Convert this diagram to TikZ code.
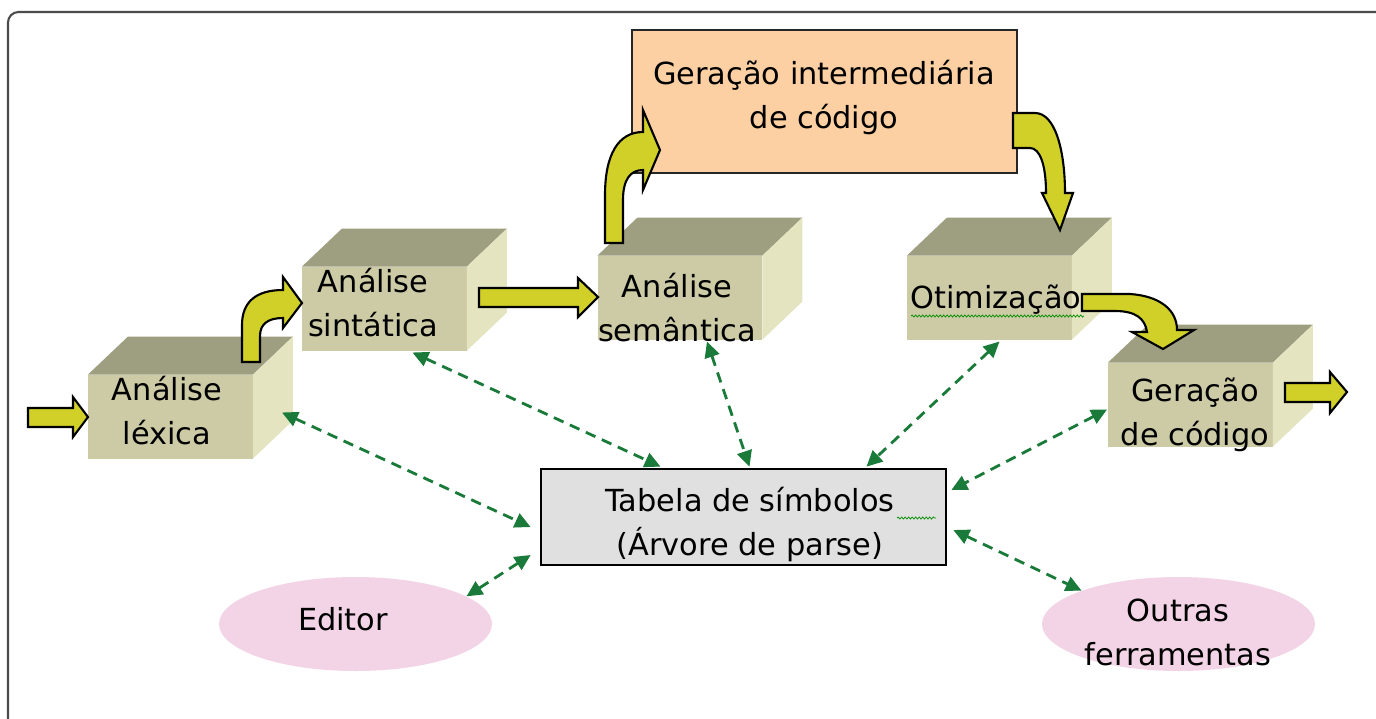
\documentclass[tikz,border=0pt]{standalone}
\usepackage{fontspec}
\setmainfont{DejaVu Sans}
\usetikzlibrary{arrows.meta,calc,shapes.geometric,decorations.pathmorphing}
\definecolor{cfront}{RGB}{204,203,166}
\definecolor{ctop}{RGB}{158,158,129}
\definecolor{cright}{RGB}{228,228,192}
\definecolor{cyel}{RGB}{208,208,40}
\definecolor{cgreen}{RGB}{26,122,58}
\definecolor{corange}{RGB}{252,208,162}
\definecolor{cgray}{RGB}{224,224,224}
\definecolor{cpink}{RGB}{242,212,230}
\newcommand\cubefaces[1]{%
  \fill[ctop] (#1.north west) -- ++(40,-38) -- ++(165,0) -- (#1.north east) -- cycle;
  \fill[cright] (#1.north east) -- ++(40,-38) -- ++(0,84) -- (#1.south east) -- cycle;}
\begin{document}
\begin{tikzpicture}[x=0.02cm,y=-0.02cm,
  font=\fontsize{17.3}{24.5}\selectfont,
  cubefront/.style={fill=cfront, draw=none, minimum width=3.3cm, minimum height=1.68cm, inner sep=0pt, outer sep=0pt},
  lbl/.style={align=center, anchor=base, inner sep=0pt},
  blockarrow/.style={fill=cyel, draw=black, line width=1.2pt, line join=miter},
  link/.style={draw=cgreen, line width=1.6pt, dash pattern=on 6pt off 4pt,
    {Triangle[length=9pt,width=8.5pt]}-{Triangle[length=9pt,width=8.5pt]}},
  squiggle/.style={draw=green!55!black, line width=0.4pt, decorate,
    decoration={snake, amplitude=0.6pt, segment length=2pt}}]
\useasboundingbox (0,0) rectangle (1376,718);
\clip (0,0) rectangle (1376,718);
\fill[white] (0,0) rectangle (1376,718);
\draw[line width=1.2pt, draw=black!70, rounded corners=6pt] (8,12) rectangle (1388,730);

% cubes
\node[cubefront] (lex) at (170.5,416.5) {};
\node[cubefront] (syn) at (384.5,308.5) {};
\node[cubefront] (sem) at (680,297.5) {};
\node[cubefront] (oti) at (989.5,297.5) {};
\node[cubefront] (gen) at (1190.5,404.5) {};
\cubefaces{lex}\cubefaces{syn}\cubefaces{sem}\cubefaces{oti}\cubefaces{gen}

% other boxes
\node[fill=corange, draw=black!85, line width=1.2pt, minimum width=7.7cm, minimum height=2.86cm, inner sep=0pt] (orng) at (824.5,101.5) {};
\node[fill=cgray, draw=black, line width=1.6pt, minimum width=8.1cm, minimum height=1.92cm, inner sep=0pt] (tab) at (743.5,517) {};
\node[ellipse, fill=cpink, draw=none, minimum width=5.46cm, minimum height=1.88cm, inner sep=0pt] (ed) at (355.5,624) {};
\node[ellipse, fill=cpink, draw=none, minimum width=5.46cm, minimum height=1.88cm, inner sep=0pt] (outr) at (1178.5,624) {};

% labels (anchor = baseline of the last line)
\node[lbl] (lexT) at (167,444) {Análise\\léxica};
\node[lbl] (synT) at (373,336) {Análise\\sintática};
\node[lbl] (semT) at (677,341) {Análise\\semântica};
\node[lbl] (otiT) at (996,308) {Otimização};
\node[lbl] (genT) at (1195,445) {Geração\\de código};
\node[lbl] (orngT) at (824,128) {Geração intermediária\\de código};
\node[lbl] (tabT) at (750,555) {Tabela de símbolos\\(Árvore de parse)};
\node[lbl] (edT) at (343,630) {Editor};
\node[lbl] (outT) at (1178,665) {Outras\\ferramentas};

\draw[squiggle] (911,316) -- (1084,316);
\draw[squiggle] (897,518) -- (936,518);

% block arrows
\filldraw[blockarrow] (28,408) -- (73,408) -- (73,397) -- (88,417) -- (73,437) -- (73,427) -- (28,427) -- cycle;
\filldraw[blockarrow] (242,362) -- (242,325) .. controls (242,302) and (256,290) .. (283,290) -- (283,277) -- (302,303) -- (283,328) -- (283,318) .. controls (268,318) and (260,324) .. (260,336) -- (260,362) -- cycle;
\filldraw[blockarrow] (479,288) -- (578,288) -- (578,278) -- (598,297) -- (578,317) -- (578,307) -- (479,307) -- cycle;
\filldraw[blockarrow] (605,243) -- (605,195) .. controls (605,155) and (618,132) .. (643,132) -- (643,110) -- (660,150) -- (643,190) -- (643,170) .. controls (630,170) and (623,180) .. (623,200) -- (623,243) -- cycle;
\filldraw[blockarrow] (1013,113) -- (1035,113) .. controls (1055,113) and (1065,150) .. (1065,193) -- (1073,193) -- (1060,230) -- (1042,193) -- (1046,193) .. controls (1046,165) and (1040,148) .. (1030,148) -- (1013,148) -- cycle;
\filldraw[blockarrow] (1082,294) -- (1130,294) .. controls (1160,296) and (1177,310) .. (1177,330) -- (1194,330) -- (1163,349) -- (1132,332) -- (1147,332) .. controls (1145,318) and (1135,311) .. (1115,311) -- (1082,311) -- cycle;
\filldraw[blockarrow] (1285,383) -- (1330,383) -- (1330,372) -- (1347,392) -- (1330,413) -- (1330,402) -- (1285,402) -- cycle;

% connectors to the symbol table
\draw[link] ($(lex.east)+(29,-4)$) -- ($(tab.west)+(-9,10)$);
\draw[link] ($(syn.south)+(28,2)$) -- ($(tab.north)+(-83,-1)$);
\draw[link] ($(sem.south)+(27,2)$) -- ($(tab.north)+(6,-1)$);
\draw[link] ($(oti.south)+(10,2)$) -- ($(tab.north)+(123,-1)$);
\draw[link] ($(gen.west)+(-1,5)$) -- ($(tab.east)+(4,-27)$);
\draw[link] ($(tab.west)+(-9,38)$) -- (ed.14);
\draw[link] ($(tab.east)+(6,13)$) -- (outr.161);
\end{tikzpicture}
\end{document}
